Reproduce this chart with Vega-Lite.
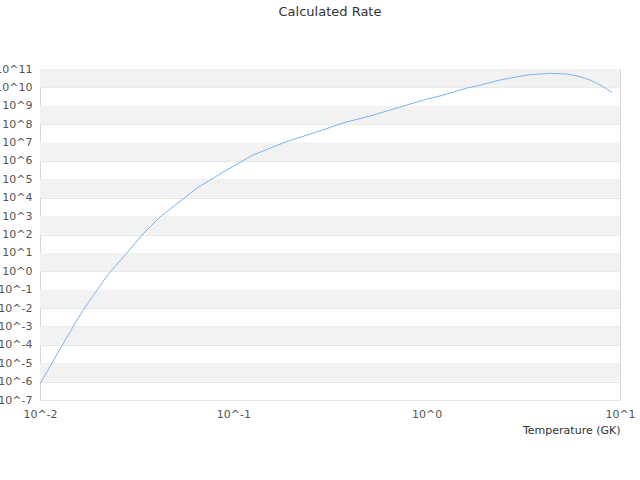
{
  "$schema": "https://vega.github.io/schema/vega-lite/v6.json",
  "description": "Calculated rate against temperature, log-log.",
  "width": 580,
  "height": 331,
  "autosize": {"type": "none"},
  "padding": {"left": 40, "top": 69, "right": 20, "bottom": 80},
  "background": "white",
  "config": {
    "font": "DejaVu Sans",
    "view": {"stroke": "#d6d6d6", "strokeWidth": 1}
  },
  "title": {
    "text": "Calculated Rate",
    "offset": 44,
    "fontSize": 13,
    "fontWeight": "normal",
    "color": "#333333",
    "font": "DejaVu Sans"
  },
  "datasets": {
    "bands": [
      {"lo": 1e-6, "hi": 1e-5},
      {"lo": 1e-4, "hi": 1e-3},
      {"lo": 1e-2, "hi": 1e-1},
      {"lo": 1, "hi": 10},
      {"lo": 100, "hi": 1000},
      {"lo": 1e4, "hi": 1e5},
      {"lo": 1e6, "hi": 1e7},
      {"lo": 1e8, "hi": 1e9},
      {"lo": 1e10, "hi": 1e11}
    ],
    "rate": [
      {"T": 0.01, "rate": 7.41e-7},
      {"T": 0.01269, "rate": 5.93e-5},
      {"T": 0.0161, "rate": 4.19e-3},
      {"T": 0.01971, "rate": 0.0959},
      {"T": 0.02302, "rate": 0.913},
      {"T": 0.02818, "rate": 9.86},
      {"T": 0.0337, "rate": 93.9},
      {"T": 0.04175, "rate": 894},
      {"T": 0.06488, "rate": 3.38e4},
      {"T": 0.09055, "rate": 2.84e5},
      {"T": 0.1264, "rate": 2.11e6},
      {"T": 0.1918, "rate": 1.21e7},
      {"T": 0.2807, "rate": 4.25e7},
      {"T": 0.3692, "rate": 1.16e8},
      {"T": 0.5092, "rate": 2.78e8},
      {"T": 0.7023, "rate": 7.57e8},
      {"T": 1.004, "rate": 2.34e9},
      {"T": 1.172, "rate": 3.4e9},
      {"T": 1.617, "rate": 9.26e9},
      {"T": 1.821, "rate": 1.19e10},
      {"T": 2.395, "rate": 2.52e10},
      {"T": 3.304, "rate": 4.72e10},
      {"T": 4.345, "rate": 5.83e10},
      {"T": 5.32, "rate": 5.34e10},
      {"T": 6.211, "rate": 3.81e10},
      {"T": 6.995, "rate": 2.52e10},
      {"T": 7.882, "rate": 1.35e10},
      {"T": 9.093, "rate": 5.41e9}
    ]
  },
  "layer": [
    {
      "data": {"name": "bands"},
      "mark": {"type": "rect", "fill": "#f2f2f2"},
      "encoding": {
        "y": {"field": "lo", "type": "quantitative", "scale": {"type": "log", "domain": [1e-7, 1e11]}},
        "y2": {"field": "hi"}
      }
    },
    {
      "data": {"name": "rate"},
      "mark": {"type": "line", "color": "#7cb5ec", "strokeWidth": 1, "clip": true},
      "encoding": {
        "x": {
          "field": "T",
          "type": "quantitative",
          "title": "Temperature (GK)",
          "scale": {"type": "log", "domain": [0.01, 10], "nice": false},
          "axis": {
            "values": [0.01, 0.1, 1, 10],
            "labelExpr": "'10^' + round(log(datum.value) / LN10)",
            "grid": false,
            "ticks": false,
            "domain": false,
            "labelFlush": false,
            "labelOverlap": false,
            "labelPadding": 8,
            "labelFontSize": 11,
            "labelColor": "#555555",
            "titleAnchor": "end",
            "titleFontSize": 11,
            "titleFontWeight": "normal",
            "titleColor": "#333333",
            "titlePadding": 5
          }
        },
        "y": {
          "field": "rate",
          "type": "quantitative",
          "title": null,
          "scale": {"type": "log", "domain": [1e-7, 1e11], "nice": false},
          "axis": {
            "values": [1e-7, 1e-6, 1e-5, 1e-4, 1e-3, 1e-2, 1e-1, 1, 10, 100, 1000, 1e4, 1e5, 1e6, 1e7, 1e8, 1e9, 1e10, 1e11],
            "labelExpr": "'10^' + round(log(datum.value) / LN10)",
            "grid": true,
            "gridColor": "#e6e6e6",
            "ticks": false,
            "domain": false,
            "labelFlush": false,
            "labelOverlap": false,
            "labelPadding": 8,
            "labelFontSize": 11,
            "labelColor": "#555555"
          }
        }
      }
    }
  ]
}
